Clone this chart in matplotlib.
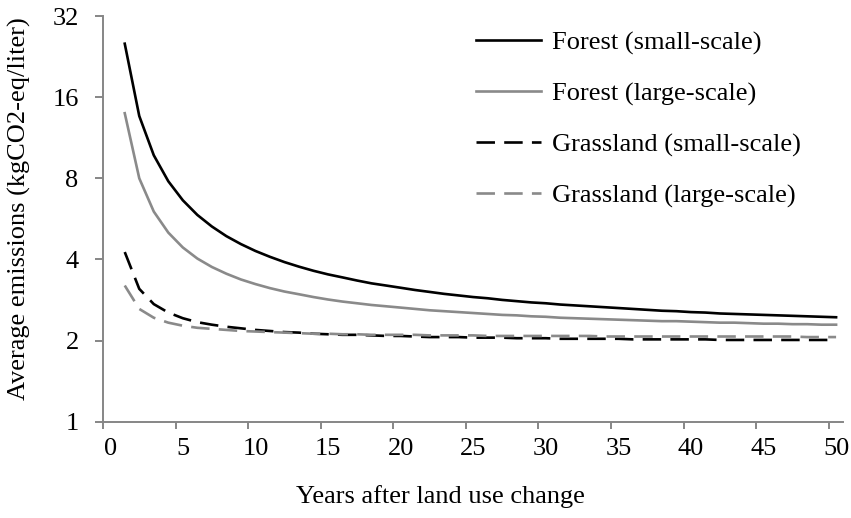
import matplotlib
matplotlib.use("Agg")
import matplotlib.pyplot as plt
from matplotlib.ticker import FixedLocator, NullLocator

# years after land use change
years = list(range(1, 51))

forest_small = [25.27, 13.62, 9.74, 7.80, 6.63, 5.85, 5.30, 4.88, 4.56, 4.30,
                4.09, 3.91, 3.76, 3.63, 3.52, 3.43, 3.34, 3.26, 3.20, 3.14,
                3.08, 3.03, 2.98, 2.94, 2.90, 2.87, 2.83, 2.80, 2.77, 2.75,
                2.72, 2.70, 2.68, 2.66, 2.64, 2.62, 2.60, 2.58, 2.57, 2.55,
                2.54, 2.52, 2.51, 2.50, 2.49, 2.48, 2.47, 2.46, 2.45, 2.44]
forest_large = [13.95, 8.00, 6.02, 5.03, 4.43, 4.03, 3.75, 3.54, 3.37, 3.24,
                3.13, 3.04, 2.97, 2.90, 2.84, 2.79, 2.75, 2.71, 2.68, 2.65,
                2.62, 2.59, 2.57, 2.55, 2.53, 2.51, 2.49, 2.48, 2.46, 2.45,
                2.43, 2.42, 2.41, 2.40, 2.39, 2.38, 2.37, 2.36, 2.36, 2.35,
                2.34, 2.33, 2.33, 2.32, 2.31, 2.31, 2.30, 2.30, 2.29, 2.29]
grass_small = [4.26, 3.11, 2.73, 2.54, 2.42, 2.34, 2.29, 2.25, 2.22, 2.19,
               2.17, 2.15, 2.14, 2.12, 2.11, 2.10, 2.10, 2.09, 2.08, 2.08,
               2.07, 2.06, 2.06, 2.06, 2.05, 2.05, 2.05, 2.04, 2.04, 2.04,
               2.03, 2.03, 2.03, 2.03, 2.03, 2.02, 2.02, 2.02, 2.02, 2.02,
               2.02, 2.01, 2.01, 2.01, 2.01, 2.01, 2.01, 2.01, 2.01, 2.01]
grass_large = [3.20, 2.62, 2.43, 2.33, 2.27, 2.23, 2.21, 2.19, 2.17, 2.16,
               2.15, 2.14, 2.13, 2.12, 2.12, 2.11, 2.11, 2.10, 2.10, 2.10,
               2.10, 2.09, 2.09, 2.09, 2.09, 2.08, 2.08, 2.08, 2.08, 2.08,
               2.08, 2.08, 2.08, 2.07, 2.07, 2.07, 2.07, 2.07, 2.07, 2.07,
               2.07, 2.07, 2.07, 2.07, 2.07, 2.07, 2.07, 2.06, 2.06, 2.06]

labels = ["Forest (small-scale)", "Forest (large-scale)",
          "Grassland (small-scale)", "Grassland (large-scale)"]
y_ticks = [1, 2, 4, 8, 16, 32]
x_ticks = list(range(0, 51, 5))

plt.rcParams["font.family"] = ["Liberation Serif", "DejaVu Serif"]

BLACK = "#000000"
GREY = "#8a8a8a"
AXIS = "#868686"
FS = 19

fig = plt.figure(figsize=(8.51, 5.18), dpi=100)
ax = fig.add_axes([0.121, 0.186, 0.870, 0.783])

lw = 1.9
dash = (7, 3.5)
ax.plot(years, forest_small, color=BLACK, lw=lw, label=labels[0])
ax.plot(years, forest_large, color=GREY, lw=lw, label=labels[1])
ax.plot(years, grass_small, color=BLACK, lw=lw, dashes=dash, label=labels[2])
ax.plot(years, grass_large, color=GREY, lw=lw, dashes=dash, label=labels[3])

ax.set_yscale("log", base=2)
ax.set_ylim(1, 32)
ax.yaxis.set_major_locator(FixedLocator(y_ticks))
ax.yaxis.set_minor_locator(NullLocator())
ax.set_yticklabels([str(v) for v in y_ticks])

# category style axis: labels in the middle of each year slot,
# tick marks on the slot borders
ax.set_xlim(-0.5, 50.5)
ax.set_xticks(x_ticks)
ax.set_xticks([t - 0.5 for t in x_ticks], minor=True)

for side in ["top", "right"]:
    ax.spines[side].set_visible(False)
for side in ["left", "bottom"]:
    ax.spines[side].set_color(AXIS)
    ax.spines[side].set_linewidth(1.4)
ax.tick_params(axis="y", direction="out", length=6, width=1.4, color=AXIS,
               labelsize=FS, pad=11.5)
ax.tick_params(axis="x", which="major", length=0, labelsize=FS, pad=12)
ax.tick_params(axis="x", which="minor", direction="out", length=5,
               width=1.4, color=AXIS)

ax.set_ylabel("Average emissions (kgCO2-eq/liter)", fontsize=FS)
ax.yaxis.set_label_coords(19 / 851, 1 - 209 / 518, transform=fig.transFigure)
ax.set_xlabel("Years after land use change", fontsize=FS)
ax.xaxis.set_label_coords(440 / 851, 1 - 497 / 518, transform=fig.transFigure)
ax.xaxis.label.set_va("center")
ax.yaxis.label.set_va("center")

ax.legend(loc="upper left", bbox_to_anchor=(476 / 851, 1 - 31 / 518),
          bbox_transform=fig.transFigure, frameon=False, fontsize=FS,
          handlelength=2.46, handletextpad=0.42, labelspacing=1.03,
          borderpad=0, borderaxespad=0)

fig.savefig("out.png", dpi=100)
